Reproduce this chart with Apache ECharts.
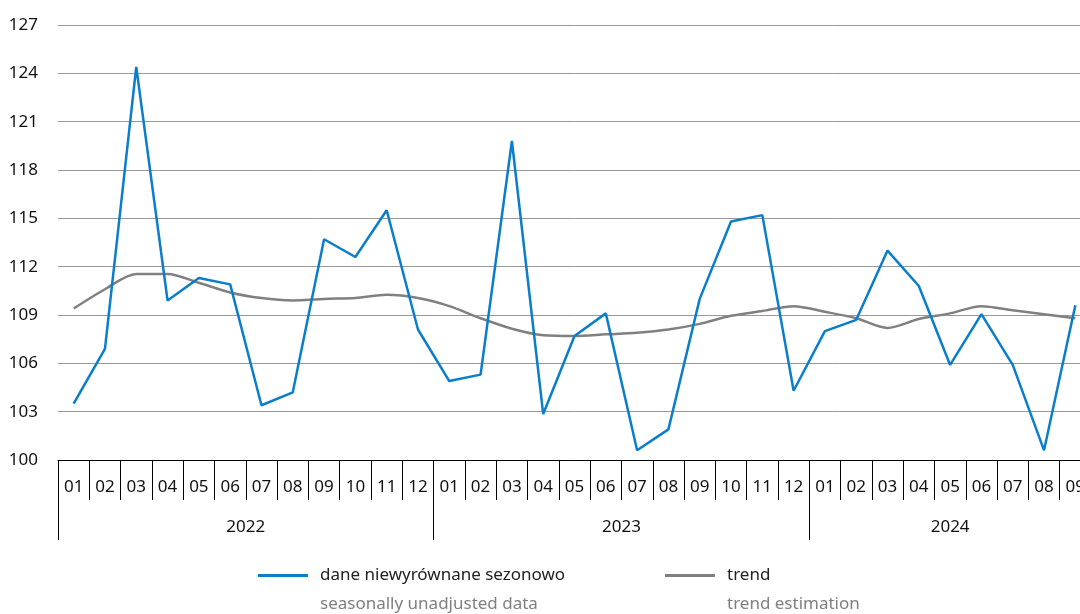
<!DOCTYPE html>
<html>
<head>
<meta charset="utf-8">
<script src="https://cdn.jsdelivr.net/npm/echarts@6/dist/echarts.min.js"></script>
<style>
  html, body { margin: 0; padding: 0; background: #fff; overflow: hidden; }
  /* wykres jest ucięty z prawej strony, jak w oryginale */
  #main { width: 1091px; height: 614px; }
</style>
</head>
<body>
<div id="main"></div>
<script>
// miesiące / months
const months = [
  '01','02','03','04','05','06','07','08','09','10','11','12',
  '01','02','03','04','05','06','07','08','09','10','11','12',
  '01','02','03','04','05','06','07','08','09'
];
const years = ['2022', '2023', '2024'];
const monthsPerYear = [12, 12, 9];
const yTicks = [100, 103, 106, 109, 112, 115, 118, 121, 124, 127];

// dane niewyrównane sezonowo
const unadjusted = [
  103.5, 106.9, 124.4, 109.9, 111.3, 110.9, 103.4, 104.2, 113.7, 112.6, 115.5, 108.1,
  104.9, 105.3, 119.8, 102.85, 107.7, 109.1, 100.6, 101.9, 110.0, 114.8, 115.2, 104.3,
  108.0, 108.7, 113.0, 110.8, 105.9, 109.06, 105.9, 100.6, 109.6
];
// trend
const trend = [
  109.4, 110.6, 111.55, 111.55, 111.0, 110.4, 110.05, 109.9, 110.0, 110.05, 110.25, 110.05,
  109.55, 108.8, 108.15, 107.75, 107.7, 107.8, 107.9, 108.1, 108.45, 108.95, 109.25, 109.55,
  109.2, 108.8, 108.2, 108.75, 109.1, 109.55, 109.3, 109.05, 108.8
];

const nameA = 'dane niewyrównane sezonowo';
const nameB = 'trend';
const subA = 'seasonally unadjusted data';
const subB = 'trend estimation';

const FONT = 'Noto Sans';

// granice lat i środki etykiet
const yearBounds = [0];
const yearCenters = [];
monthsPerYear.forEach((n, i) => {
  yearCenters.push(yearBounds[i] + n / 2);
  yearBounds.push(yearBounds[i] + n);
});

const option = {
  animation: false,
  backgroundColor: '#fff',
  textStyle: { fontFamily: FONT },
  grid: { left: 58, top: 25, right: 0, height: 435 },
  xAxis: [
    {
      type: 'category',
      data: months,
      boundaryGap: true,
      axisLine: { lineStyle: { color: '#000', width: 1 } },
      axisTick: { show: true, interval: 0, length: 40, lineStyle: { color: '#000' } },
      axisLabel: { interval: 0, margin: 19, color: '#111', fontSize: 17, fontFamily: FONT },
      splitLine: { show: false }
    },
    {
      type: 'value',
      min: 0,
      max: months.length,
      position: 'bottom',
      axisLine: { show: false },
      axisTick: { show: true, length: 80, customValues: yearBounds, lineStyle: { color: '#000' } },
      axisLabel: {
        customValues: yearCenters,
        margin: 59,
        color: '#111',
        fontSize: 17,
        fontFamily: FONT,
        formatter: (v) => {
          const i = yearCenters.indexOf(v);
          return i >= 0 ? years[i] : '';
        }
      },
      splitLine: { show: false }
    }
  ],
  yAxis: {
    type: 'value',
    min: 100,
    max: 127,
    axisLine: { show: false },
    axisTick: { show: false, customValues: yTicks },
    axisLabel: { customValues: yTicks, margin: 20, color: '#111', fontSize: 17, fontFamily: FONT },
    splitLine: { show: true, lineStyle: { color: '#999', width: 1 } }
  },
  legend: [
    {
      data: [nameA],
      left: 258,
      top: 567,
      padding: 0,
      icon: 'rect',
      itemWidth: 50,
      itemHeight: 3,
      textStyle: { fontSize: 17, color: '#222', fontFamily: FONT, padding: [0, 0, 0, 7] }
    },
    {
      data: [nameB],
      left: 665,
      top: 567,
      padding: 0,
      icon: 'rect',
      itemWidth: 50,
      itemHeight: 3,
      textStyle: { fontSize: 17, color: '#222', fontFamily: FONT, padding: [0, 0, 0, 7] }
    }
  ],
  graphic: [
    { type: 'text', left: 320, top: 596, style: { text: subA, fontSize: 17, fill: '#808080', fontFamily: FONT } },
    { type: 'text', left: 727, top: 596, style: { text: subB, fontSize: 17, fill: '#808080', fontFamily: FONT } }
  ],
  series: [
    {
      name: nameA,
      type: 'line',
      data: unadjusted,
      symbol: 'none',
      color: '#0a7dcb',
      lineStyle: { width: 2.5 },
      z: 3
    },
    {
      name: nameB,
      type: 'line',
      data: trend,
      symbol: 'none',
      smooth: 0.3,
      color: '#808080',
      lineStyle: { width: 2.5 },
      z: 2
    }
  ]
};

const chart = echarts.init(document.getElementById('main'));
chart.setOption(option);
</script>
</body>
</html>
